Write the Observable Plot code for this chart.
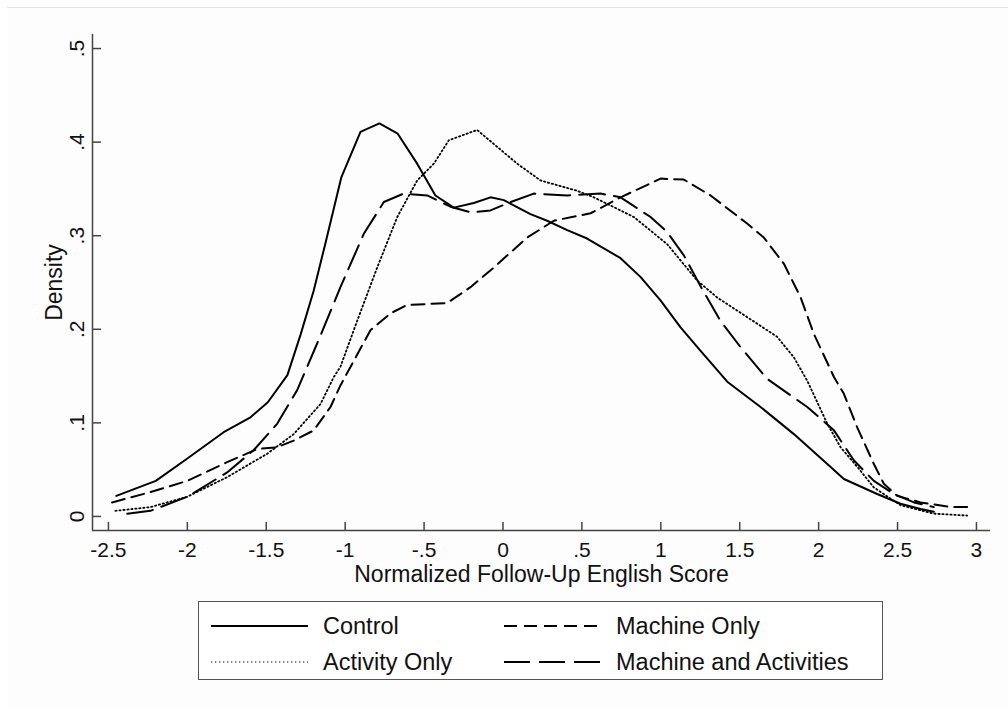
<!DOCTYPE html>
<html>
<head>
<meta charset="utf-8">
<script src="https://cdn.jsdelivr.net/npm/d3@7"></script>
<script src="https://cdn.jsdelivr.net/npm/@observablehq/plot@0.6"></script>
<style>
  html, body { margin: 0; padding: 0; background: #ffffff; width: 1008px; height: 708px; overflow: hidden; }
  #frame { position: absolute; left: 7px; top: 7px; width: 1001px; height: 701px; background: #fdfdfd; border-top: 1px solid #e3e3e3; }
  #chart { position: absolute; left: 0; top: 0; }
  #legend { position: absolute; left: 198px; top: 601px; width: 683px; height: 77px; border: 1.5px solid #555; background: #ffffff;
            font-family: "Liberation Sans", Arial, sans-serif; font-size: 23.5px; color: #111; }
  .item { position: absolute; height: 30px; }
  .item svg { position: absolute; left: 0; top: 0; }
  .item span { position: absolute; top: 0; line-height: 30px; white-space: nowrap; }
</style>
</head>
<body>
<div id="frame"></div>
<div id="chart"></div>
<div id="legend"></div>
<script>
// ---- data ----
const xTicks = [-2.5, -2, -1.5, -1, -0.5, 0, 0.5, 1, 1.5, 2, 2.5, 3];
const xTickLabels = ["-2.5", "-2", "-1.5", "-1", "-.5", "0", ".5", "1", "1.5", "2", "2.5", "3"];
const yTicks = [0, 0.1, 0.2, 0.3, 0.4, 0.5];
const yTickLabels = ["0", ".1", ".2", ".3", ".4", ".5"];
const xTitle = "Normalized Follow-Up English Score";
const yTitle = "Density";
const seriesNames = ["Control", "Activity Only", "Machine Only", "Machine and Activities"];

const controlX = [-2.45, -2.2, -2.0, -1.77, -1.60, -1.49, -1.366, -1.283, -1.20, -1.125, -1.025, -0.903, -0.783, -0.667, -0.544, -0.428, -0.312, -0.185, -0.079, 0.005, 0.174, 0.280, 0.407, 0.533, 0.745, 0.871, 0.998, 1.125, 1.252, 1.421, 1.632, 1.843, 2.055, 2.160, 2.371, 2.519, 2.646, 2.73];
const controlY = [0.022, 0.038, 0.062, 0.090, 0.106, 0.122, 0.151, 0.194, 0.241, 0.292, 0.362, 0.411, 0.420, 0.409, 0.377, 0.343, 0.330, 0.335, 0.341, 0.338, 0.323, 0.316, 0.306, 0.297, 0.276, 0.256, 0.231, 0.202, 0.177, 0.144, 0.117, 0.088, 0.056, 0.040, 0.024, 0.0136, 0.008, 0.005];

const activityX = [-2.456, -2.234, -2.001, -1.748, -1.494, -1.326, -1.157, -1.072, -1.030, -0.924, -0.797, -0.670, -0.544, -0.438, -0.343, -0.164, -0.037, 0.090, 0.238, 0.470, 0.576, 0.829, 1.040, 1.231, 1.357, 1.547, 1.737, 1.843, 1.928, 2.055, 2.139, 2.245, 2.350, 2.519, 2.730, 2.941];
const activityY = [0.006, 0.010, 0.021, 0.042, 0.067, 0.088, 0.120, 0.149, 0.160, 0.209, 0.266, 0.320, 0.359, 0.377, 0.402, 0.413, 0.395, 0.377, 0.359, 0.348, 0.341, 0.320, 0.291, 0.252, 0.234, 0.213, 0.192, 0.170, 0.145, 0.099, 0.074, 0.053, 0.031, 0.012, 0.003, 0.001];

const machineX = [-2.477, -2.234, -2.001, -1.748, -1.558, -1.431, -1.326, -1.199, -1.093, -1.030, -0.840, -0.713, -0.607, -0.354, -0.206, -0.058, 0.153, 0.322, 0.555, 0.745, 0.998, 1.146, 1.315, 1.547, 1.653, 1.780, 1.886, 1.970, 2.097, 2.160, 2.245, 2.350, 2.413, 2.498, 2.646, 2.836, 2.941];
const machineY = [0.015, 0.026, 0.038, 0.058, 0.072, 0.074, 0.081, 0.092, 0.117, 0.140, 0.199, 0.217, 0.226, 0.228, 0.245, 0.266, 0.298, 0.316, 0.324, 0.341, 0.361, 0.360, 0.343, 0.313, 0.298, 0.270, 0.234, 0.195, 0.149, 0.131, 0.095, 0.056, 0.035, 0.022, 0.015, 0.010, 0.010];

const bothX = [-2.381, -2.234, -2.001, -1.748, -1.579, -1.431, -1.304, -1.157, -1.030, -0.882, -0.755, -0.629, -0.480, -0.333, -0.206, -0.079, 0.048, 0.195, 0.407, 0.618, 0.745, 0.935, 1.040, 1.146, 1.252, 1.378, 1.505, 1.674, 1.928, 2.097, 2.223, 2.350, 2.477, 2.604, 2.730];
const bothY = [0.003, 0.006, 0.021, 0.047, 0.071, 0.099, 0.135, 0.193, 0.245, 0.302, 0.336, 0.345, 0.343, 0.331, 0.325, 0.327, 0.336, 0.345, 0.343, 0.345, 0.341, 0.320, 0.304, 0.279, 0.246, 0.209, 0.181, 0.147, 0.117, 0.092, 0.060, 0.038, 0.024, 0.015, 0.010];

// ---- build tables ----
const seriesData = {
  "Control": controlX.map((x, i) => ({x, y: controlY[i]})),
  "Activity Only": activityX.map((x, i) => ({x, y: activityY[i]})),
  "Machine Only": machineX.map((x, i) => ({x, y: machineY[i]})),
  "Machine and Activities": bothX.map((x, i) => ({x, y: bothY[i]}))
};

// ---- styles ----
const lineStyle = {
  "Control": {strokeWidth: 2, dash: null},
  "Activity Only": {strokeWidth: 1.8, dash: "1.3,2.7"},
  "Machine Only": {strokeWidth: 2, dash: "13,7"},
  "Machine and Activities": {strokeWidth: 2, dash: "26,9"}
};
const font = '"Liberation Sans", Arial, sans-serif';
const xDomain = [-2.601, 3.089];
const yDomain = [-0.015, 0.515];
const axisColor = "#444";
const inkColor = "#111";

const marks = [];
for (const name of seriesNames) {
  const s = lineStyle[name];
  marks.push(Plot.line(seriesData[name], {
    x: "x", y: "y", stroke: "#000", strokeWidth: s.strokeWidth,
    strokeDasharray: s.dash || undefined, curve: "linear", strokeLinejoin: "round"
  }));
}
// axis lines
marks.push(Plot.ruleY([yDomain[0]], {stroke: axisColor, strokeWidth: 1.5}));
marks.push(Plot.ruleX([xDomain[0]], {stroke: axisColor, strokeWidth: 1.5}));
// inward ticks
marks.push(Plot.axisX({ticks: xTicks, tickSize: 8, dy: -8, tickFormat: () => "", label: null, stroke: axisColor, strokeWidth: 1.5}));
marks.push(Plot.axisY({ticks: yTicks, tickSize: 9, dx: 9, tickFormat: () => "", label: null, stroke: axisColor, strokeWidth: 1.5}));
// tick labels
marks.push(Plot.text(xTicks, {x: d => d, frameAnchor: "bottom", dy: 12, lineAnchor: "top", textAnchor: "middle",
  text: d => xTickLabels[xTicks.indexOf(d)], fontSize: 21, fill: inkColor}));
marks.push(Plot.text(yTicks, {y: d => d, frameAnchor: "left", dx: -9, rotate: -90, lineAnchor: "bottom", textAnchor: "middle",
  text: d => yTickLabels[yTicks.indexOf(d)], fontSize: 21, fill: inkColor}));
// axis titles
marks.push(Plot.text([xTitle], {frameAnchor: "bottom", dy: 51, lineAnchor: "bottom", textAnchor: "middle", fontSize: 23, fill: inkColor}));
marks.push(Plot.text([yTitle], {frameAnchor: "left", dx: -31, rotate: -90, lineAnchor: "bottom", textAnchor: "middle", fontSize: 23, fill: inkColor}));

const chart = Plot.plot({
  width: 1008, height: 600,
  marginLeft: 92, marginRight: 18, marginTop: 34, marginBottom: 70,
  x: {domain: xDomain, label: null},
  y: {domain: yDomain, label: null},
  style: {fontFamily: font, background: "transparent", overflow: "visible"},
  marks
});
document.getElementById("chart").appendChild(chart);

// ---- legend ----
const legend = document.getElementById("legend");
const colLeft = [12, 305];
const rowTop = [9, 45];
seriesNames.forEach((name, i) => {
  const col = Math.floor(i / 2), row = i % 2;
  const s = lineStyle[name];
  const item = document.createElement("div");
  item.className = "item";
  item.style.left = colLeft[col] + "px";
  item.style.top = rowTop[row] + "px";
  const svg = d3.create("svg").attr("width", 100).attr("height", 30);
  svg.append("line").attr("x1", 0).attr("x2", 97).attr("y1", 15).attr("y2", 15)
    .attr("stroke", "#000").attr("stroke-width", name === "Activity Only" ? 1.2 : s.strokeWidth)
    .attr("stroke-dasharray", s.dash || null);
  item.appendChild(svg.node());
  const span = document.createElement("span");
  span.style.left = "112px";
  span.textContent = name;
  item.appendChild(span);
  legend.appendChild(item);
});
</script>
</body>
</html>
